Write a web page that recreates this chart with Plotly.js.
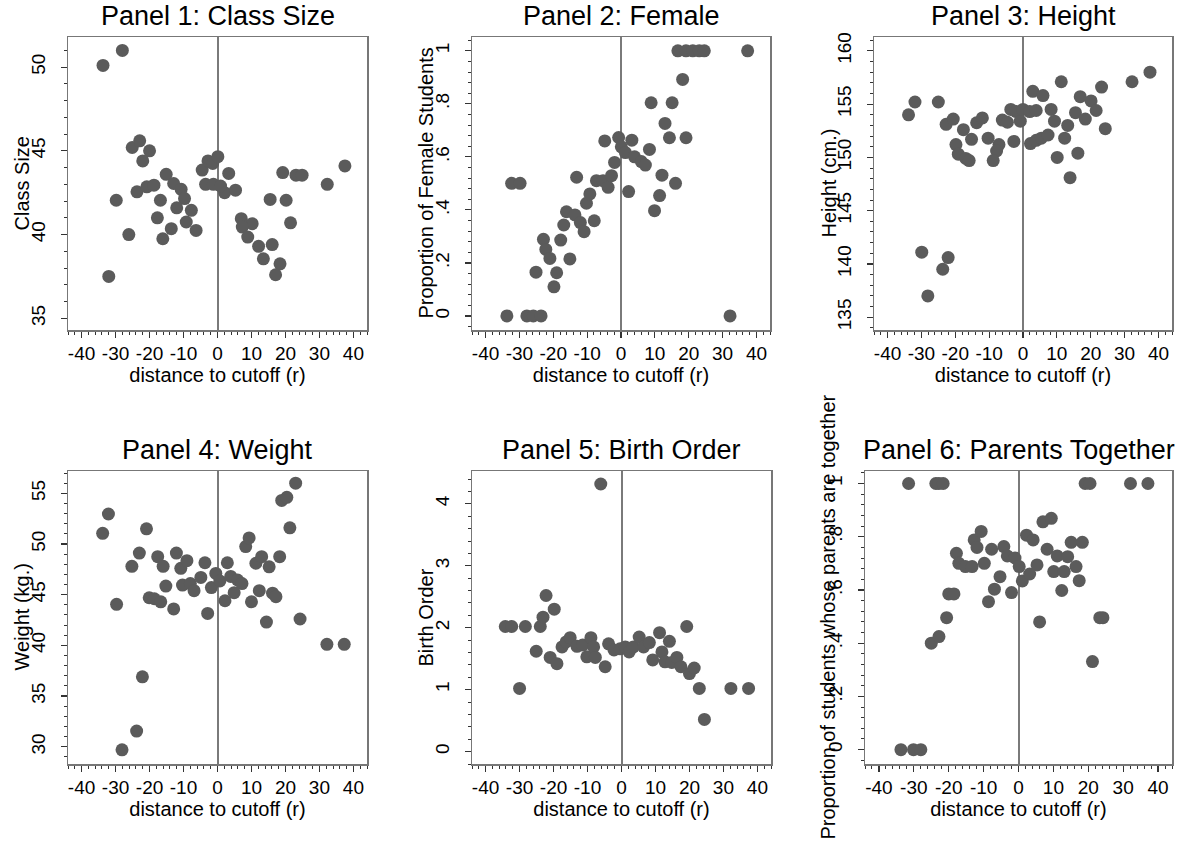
<!DOCTYPE html>
<html>
<head>
<meta charset="utf-8">
<script src="https://cdn.plot.ly/plotly-3.0.1.min.js"></script>
<style>
html,body{margin:0;padding:0;background:#fff;}
#chart{width:1190px;height:852px;}
</style>
</head>
<body>
<div id="chart"></div>
<script>
// ---------- Data ----------
const panelTitles = ["Panel 1: Class Size","Panel 2: Female","Panel 3: Height","Panel 4: Weight","Panel 5: Birth Order","Panel 6: Parents Together"];
const yTitles = ["Class Size","Proportion of Female Students","Height (cm.)","Weight (kg.)","Birth Order","Proportion of students whose parents are together"];
const xTitle = "distance to cutoff (r)";
const xTickVals = [-40,-30,-20,-10,0,10,20,30,40];
const xTickText = ["-40","-30","-20","-10","0","10","20","30","40"];

const classSizeX = [-33.7,-28.0,-32.0,-29.8,-26.1,-25.1,-22.9,-20.0,-22.0,-23.7,-20.8,-18.7,-16.8,-17.7,-16.1,-13.6,-15.1,-12.9,-10.7,-9.7,-12.0,-7.7,-9.2,-6.3,-4.5,-2.8,-1.4,0.1,-3.5,-1.2,2.1,3.3,5.3,7.0,10.2,7.3,8.9,12.1,16.1,13.5,18.4,17.1,15.5,20.2,21.5,19.2,23.1,24.9,32.3,37.5,0.9];
const classSizeY = [50.1,51.0,37.5,42.05,40.0,45.2,45.6,45.0,44.4,42.55,42.85,42.95,42.05,41.0,39.75,40.35,43.6,43.05,42.7,42.15,41.6,41.45,40.75,40.25,43.85,44.4,44.25,44.65,43.0,43.0,42.5,43.65,42.65,40.95,40.65,40.45,39.85,39.3,39.4,38.55,38.25,37.6,42.1,42.05,40.7,43.7,43.55,43.55,43.0,44.1,42.9];

const femaleX = [-33.7,-27.8,-25.9,-23.6,-32.3,-29.8,-25.1,-19.8,-19.0,-22.9,-22.2,-21.0,-17.8,-15.1,-16.9,-16.1,-13.6,-12.0,-10.9,-7.9,-13.1,-10.2,-9.2,-7.25,-5.3,-3.8,-2.8,-1.9,-4.8,-0.7,0.1,1.3,3.2,2.25,4.0,6.0,7.2,8.4,12.1,16.1,11.4,9.9,8.9,15.1,13.0,14.3,19.2,18.2,16.8,19.2,21.2,23.1,24.6,37.4,32.2];
const femaleY = [0,0,0,0,0.5,0.5,0.165,0.11,0.163,0.289,0.251,0.217,0.286,0.215,0.343,0.393,0.381,0.352,0.318,0.359,0.523,0.425,0.46,0.51,0.51,0.485,0.529,0.579,0.66,0.673,0.638,0.616,0.663,0.469,0.6,0.582,0.569,0.628,0.531,0.5,0.454,0.397,0.804,0.804,0.726,0.672,0.672,0.892,1,1,1,1,1,1,0];

const heightX = [-33.8,-31.9,-25.0,-29.9,-22.1,-23.7,-28.1,-22.7,-20.6,-17.6,-15.2,-19.8,-19.1,-16.9,-15.9,-13.7,-12.0,-10.3,-7.1,-7.8,-8.8,-6.1,-4.6,-3.6,-2.0,-2.7,-0.8,0.0,2.0,3.9,2.9,5.9,2.2,3.9,5.4,7.4,8.3,9.3,11.3,12.3,13.2,10.1,13.9,15.5,16.2,16.9,18.4,20.1,21.6,23.2,24.3,32.2,37.5];
const heightY = [154.0,155.2,155.2,141.1,140.6,139.5,137.0,153.1,153.6,152.6,151.7,151.2,150.3,149.9,149.7,153.25,153.7,151.8,151.2,150.6,149.7,153.5,153.3,154.5,154.3,151.5,153.4,154.5,154.3,154.4,156.2,155.8,151.3,151.6,151.8,152.1,154.5,153.4,157.1,151.8,153.0,150.0,148.1,154.2,150.4,155.7,153.6,155.3,154.4,156.6,152.7,157.1,158.0];

const weightX = [-33.8,-32.1,-29.7,-20.9,-23.0,-25.2,-22.1,-23.8,-28.1,-20.1,-18.6,-16.7,-17.6,-16.0,-15.2,-12.9,-12.1,-10.8,-9.0,-10.3,-8.0,-6.9,-4.9,-3.7,-2.9,-1.8,-0.5,0.7,2.2,2.9,3.9,5.9,7.2,4.9,8.3,9.3,10.0,11.3,13.0,12.3,14.4,15.2,16.2,17.2,18.3,18.9,20.4,21.3,23.0,24.3,32.2,37.3];
const weightY = [51.05,52.96,44.05,51.5,49.1,47.8,36.9,31.55,29.7,44.7,44.6,44.3,48.75,47.8,45.85,43.6,49.1,47.6,48.35,45.95,46.1,45.4,46.7,48.15,43.15,45.7,47.1,46.35,44.4,48.15,46.8,46.45,46.1,45.2,49.75,50.6,44.3,48.1,48.75,45.4,42.3,47.75,45.15,44.8,48.75,54.3,54.6,51.6,56.0,42.6,40.1,40.1];

const birthX = [-34.2,-32.3,-28.3,-30.0,-25.1,-23.9,-23.1,-22.2,-19.8,-21.0,-19.0,-17.5,-16.3,-15.1,-13.1,-11.4,-10.2,-9.0,-8.2,-7.7,-6.1,-4.8,-3.8,-2.2,-0.4,1.1,2.25,3.5,5.2,6.5,8.2,9.2,11.2,11.9,12.8,14.1,14.8,16.3,17.5,19.2,20.0,21.4,22.9,24.4,32.2,37.4];
const birthY = [2.02,2.02,2.02,1.02,1.62,2.02,2.17,2.52,2.3,1.52,1.42,1.69,1.77,1.84,1.7,1.72,1.53,1.84,1.69,1.52,4.32,1.37,1.74,1.64,1.66,1.69,1.61,1.69,1.85,1.69,1.76,1.48,1.92,1.61,1.45,1.78,1.44,1.52,1.37,2.02,1.26,1.35,1.02,0.52,1.02,1.02];

const parentsX = [-31.5,-23.7,-22.8,-21.6,-33.7,-30.1,-28.0,-25.0,-22.8,-20.6,-20.0,-18.5,-17.8,-17.1,-15.2,-13.3,-12.7,-11.9,-10.7,-9.8,-7.7,-8.6,-6.9,-5.3,-4.2,-3.2,-2.0,-1.0,0.2,1.1,2.3,4.2,3.2,5.3,6.05,7.0,9.4,8.2,10.1,11.1,12.4,13.1,14.1,15.1,16.5,17.4,18.3,19.1,20.5,21.2,23.3,24.2,32.1,37.1];
const parentsY = [1,1,1,1,0,0,0,0.40,0.425,0.496,0.585,0.585,0.738,0.70,0.688,0.688,0.788,0.76,0.82,0.70,0.753,0.556,0.603,0.65,0.763,0.728,0.59,0.72,0.688,0.634,0.806,0.788,0.66,0.694,0.48,0.856,0.869,0.753,0.669,0.728,0.598,0.669,0.725,0.779,0.688,0.635,0.779,1,1,0.331,0.496,0.496,1,1];

const yTickVals = [[35,40,45,50],[0,0.2,0.4,0.6,0.8,1],[135,140,145,150,155,160],[30,35,40,45,50,55],[0,1,2,3,4],[0,0.2,0.4,0.6,0.8,1]];
const yTickText = [["35","40","45","50"],["0",".2",".4",".6",".8","1"],["135","140","145","150","155","160"],["30","35","40","45","50","55"],["0","1","2","3","4"],["0",".2",".4",".6",".8","1"]];
const yMinor = [1,0.04,1,1,0.2,0.04];

const xs = [classSizeX,femaleX,heightX,weightX,birthX,parentsX];
const ys = [classSizeY,femaleY,heightY,weightY,birthY,parentsY];

// ---------- Layout geometry (pixels) ----------
const W = 1190, H = 852;
const boxes = [
  {l:68,r:367,t:37,b:330,yr:[34.3,51.8],ytx:21},
  {l:472,r:770,t:37,b:330,yr:[-0.053,1.052],ytx:425},
  {l:874,r:1172,t:37,b:330,yr:[133.8,161.3],ytx:828},
  {l:68,r:367,t:471,b:764,yr:[28.3,57.2],ytx:21},
  {l:472,r:771,t:471,b:764,yr:[-0.2,4.53],ytx:425},
  {l:865,r:1172,t:471,b:764,yr:[-0.054,1.047],ytx:827}
];

const FONT = "Liberation Sans, Arial, Helvetica, sans-serif";
const TICKF = 19, AXTF = 20, TITF = 27;
const traces = [];
const layout = {
  width: W, height: H,
  margin: {l:0,r:0,t:0,b:0},
  paper_bgcolor: "#ffffff",
  plot_bgcolor: "#ffffff",
  showlegend: false,
  font: {family: FONT, color: "#000", size: TICKF},
  annotations: []
};

boxes.forEach((b, i) => {
  const n = i + 1;
  const xa = n === 1 ? "x" : "x" + n;
  const ya = n === 1 ? "y" : "y" + n;
  traces.push({
    type: "scatter", mode: "markers",
    x: xs[i], y: ys[i], xaxis: xa, yaxis: ya,
    marker: {size: 13, color: "#5b5b5b"},
    hoverinfo: "x+y"
  });
  const xkey = n === 1 ? "xaxis" : "xaxis" + n;
  const ykey = n === 1 ? "yaxis" : "yaxis" + n;
  layout[xkey] = {
    domain: [b.l / W, b.r / W],
    anchor: ya,
    range: [-44, 44],
    tickvals: xTickVals, ticktext: xTickText,
    tickangle: 0,
    ticks: "outside", ticklen: 6, tickwidth: 1.2, tickcolor: "#333",
    minor: {dtick: 2, tick0: 0, ticks: "outside", ticklen: 3, tickwidth: 1, tickcolor: "#333", showgrid: false},
    showgrid: false,
    zeroline: true, zerolinecolor: "#7a7a7a", zerolinewidth: 2,
    showline: true, linecolor: "#777", linewidth: 1.5, mirror: true,
    tickfont: {size: TICKF, family: FONT, color: "#000"},
    ticklabelstandoff: 0,
    title: {text: xTitle, font: {size: AXTF, family: FONT, color: "#000"}, standoff: 3},
    automargin: false, fixedrange: true
  };
  layout[ykey] = {
    domain: [1 - b.b / H, 1 - b.t / H],
    anchor: xa,
    range: b.yr,
    tickvals: yTickVals[i], ticktext: yTickText[i],
    tickangle: -90,
    ticks: "outside", ticklen: 6, tickwidth: 1.2, tickcolor: "#333",
    minor: {dtick: yMinor[i], tick0: 0, ticks: "outside", ticklen: 3, tickwidth: 1, tickcolor: "#333", showgrid: false},
    showgrid: false, zeroline: false,
    showline: true, linecolor: "#777", linewidth: 1.5, mirror: true,
    tickfont: {size: TICKF, family: FONT, color: "#000"},
    ticklabelstandoff: 8,
    automargin: false, fixedrange: true
  };
  // y-axis title, placed as in the reference (it overlaps tick labels in panel 6)
  layout.annotations.push({
    text: yTitles[i], xref: "paper", yref: "paper",
    x: b.ytx / W, y: 1 - ((b.t + b.b) / 2) / H,
    xanchor: "center", yanchor: "middle", textangle: -90, showarrow: false,
    font: {size: AXTF, family: FONT, color: "#000"}
  });
  layout.annotations.push({
    text: panelTitles[i], xref: "paper", yref: "paper",
    x: ((b.l + b.r) / 2) / W, y: 1 - (b.t - 4) / H,
    xanchor: "center", yanchor: "bottom", showarrow: false,
    font: {size: TITF, family: FONT, color: "#000"}
  });
});

Plotly.newPlot("chart", traces, layout, {staticPlot: true, displayModeBar: false});
</script>
</body>
</html>
